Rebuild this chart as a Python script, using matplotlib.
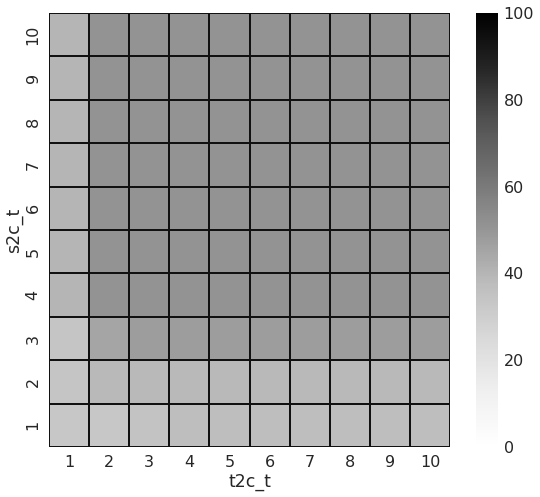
import matplotlib
matplotlib.use("Agg")
import matplotlib.pyplot as plt
import seaborn as sns
import numpy as np
import pandas as pd

sns.set_style("white")
plt.rcParams['font.family'] = ['DejaVu Sans']

t2c_t = [1, 2, 3, 4, 5, 6, 7, 8, 9, 10]
s2c_t = [10, 9, 8, 7, 6, 5, 4, 3, 2, 1]

row_10 = [40, 51, 51, 51, 51, 51, 51, 51, 51, 51]
row_9 = [40, 51, 51, 51, 51, 51, 51, 51, 51, 51]
row_8 = [40, 51, 51, 51, 51, 51, 51, 51, 51, 51]
row_7 = [40, 51, 51, 51, 51, 51, 51, 51, 51, 51]
row_6 = [40, 51, 51, 51, 51, 51, 51, 51, 51, 51]
row_5 = [40, 51, 51, 51, 51, 51, 51, 51, 51, 51]
row_4 = [40, 51, 51, 51, 51, 51, 51, 51, 51, 51]
row_3 = [34, 45, 48, 48, 48, 48, 48, 48, 48, 48]
row_2 = [34, 39, 39, 39, 39, 39, 39, 39, 39, 39]
row_1 = [33, 33, 35, 37, 37, 37, 37, 37, 37, 37]

data = pd.DataFrame([row_10, row_9, row_8, row_7, row_6, row_5, row_4, row_3, row_2, row_1],
                    index=s2c_t, columns=t2c_t)

fig = plt.figure(figsize=(5.40, 4.97), dpi=100)
ax = fig.add_axes([49/540, 1 - 447/497, 401/540, 434/497])
cax = fig.add_axes([476/540, 1 - 447/497, 22/540, 434/497])

sns.heatmap(data, ax=ax, cbar_ax=cax, cmap="Greys", vmin=0, vmax=100,
            linewidths=1.1, linecolor="#111111")
ax.set_xlabel("t2c_t", fontsize=12.5, labelpad=2)
ax.set_ylabel("s2c_t", fontsize=12.5, labelpad=2)
ax.tick_params(axis='both', labelsize=11.5, length=0, pad=6, colors="#262626")
ax.xaxis.label.set_color("#262626")
ax.yaxis.label.set_color("#262626")
for sp in ax.spines.values():
    sp.set_visible(False)
cax.tick_params(labelsize=11.5, length=0, pad=4, colors="#262626")
for sp in cax.spines.values():
    sp.set_visible(False)

fig.savefig("out.png", dpi=100)
